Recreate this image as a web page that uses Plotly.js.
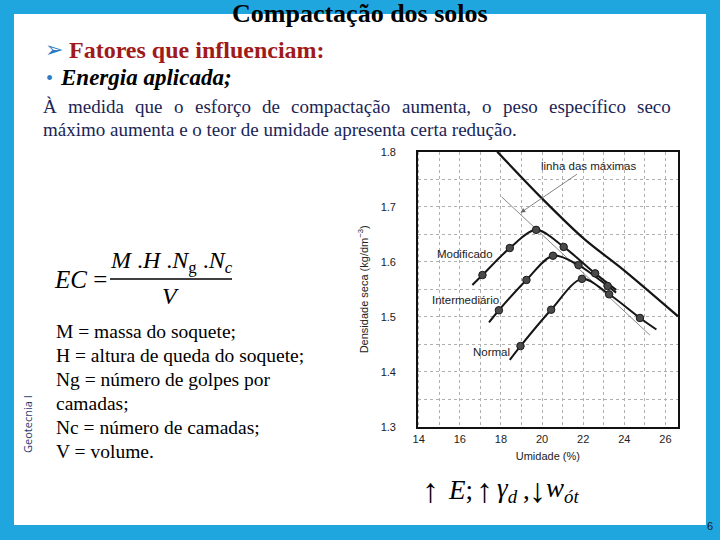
<!DOCTYPE html>
<html>
<head>
<meta charset="utf-8">
<script src="https://cdn.plot.ly/plotly-3.0.1.min.js"></script>
<style>html,body{margin:0;padding:0;background:#1fa6df;}#chart{width:720px;height:540px;}</style>
</head>
<body>
<div id="chart"></div>
<script>
// ---- data ----
const xTicks = [14, 16, 18, 20, 22, 24, 26];
const yTicks = [1.3, 1.4, 1.5, 1.6, 1.7, 1.8];

const maximasX = [17.82, 20.0, 22.0, 24.0, 26.61];
const maximasY = [1.800, 1.715, 1.643, 1.584, 1.501];

const guiaX = [18.03, 25.24];
const guiaY = [1.718, 1.467];

const modificadoX = [17.10, 18.43, 19.71, 21.05, 22.58];
const modificadoY = [1.576, 1.625, 1.658, 1.627, 1.579];
const modificadoCurvaX = [16.61, 17.10, 18.43, 19.71, 21.05, 22.58, 23.60];
const modificadoCurvaY = [1.558, 1.576, 1.625, 1.658, 1.627, 1.579, 1.549];

const intermediarioX = [17.90, 19.24, 20.53, 21.77, 23.19];
const intermediarioY = [1.512, 1.567, 1.611, 1.594, 1.556];
const intermediarioCurvaX = [17.42, 17.90, 19.24, 20.53, 21.77, 23.19, 23.60];
const intermediarioCurvaY = [1.490, 1.512, 1.567, 1.611, 1.594, 1.556, 1.544];

const normalX = [18.95, 20.44, 21.94, 23.26, 24.76];
const normalY = [1.447, 1.513, 1.569, 1.541, 1.498];
const normalCurvaX = [18.43, 18.95, 20.44, 21.94, 23.26, 24.76, 25.56];
const normalCurvaY = [1.422, 1.447, 1.513, 1.569, 1.541, 1.498, 1.477];

const curveLabels = ["Modificado", "Intermediário", "Normal"];
const curveLabelX = [16.24, 16.29, 17.55];
const curveLabelY = [1.614, 1.530, 1.437];

const tituloSlide = "Compactação dos solos";
const fatores = "Fatores que influenciam:";
const energia = "Energia aplicada;";
const paragrafo1 = "À medida que o esforço de compactação aumenta, o peso específico seco";
const paragrafo2 = "máximo aumenta e o teor de umidade apresenta certa redução.";
const legendaLista = ["M = massa do soquete;", "H = altura de queda do soquete;", "Ng = número de golpes por", "camadas;", "Nc = número de camadas;", "V = volume."];
// bottom relation pieces: text, left x position (px) and size
const relacaoPartes = ["↑", "<i>E</i>;", "↑", "<i>γ</i><sub><i>d</i></sub>", ",", "↓", "<i>w</i><sub><i>ót</i></sub>"];
const relacaoPosX = [421, 447, 475, 496, 522, 528, 545];
const relacaoTam = [34, 27, 34, 27, 27, 34, 27];

// ---- helpers ----
const W = 720, H = 540;
const px = v => v / W;
const py = v => 1 - v / H;
const SERIF = '"Liberation Serif", "Times New Roman", serif';
const SANS = '"Liberation Sans", Arial, sans-serif';

const markerStyle = {size: 7.5, color: '#4a4a4a', line: {color: '#1a1a1a', width: 1}};
function curve(x, y, w) {
  return {x, y, type: 'scatter', mode: 'lines', line: {color: '#151515', width: w || 2, shape: 'spline', smoothing: 0.9}, hoverinfo: 'skip', showlegend: false};
}
function pts(x, y) {
  return {x, y, type: 'scatter', mode: 'markers', marker: markerStyle, hoverinfo: 'skip', showlegend: false};
}

const traces = [
  curve(maximasX, maximasY, 2.2),
  {x: guiaX, y: guiaY, type: 'scatter', mode: 'lines', line: {color: '#8a8a8a', width: 1}, showlegend: false, hoverinfo: 'skip'},
  curve(modificadoCurvaX, modificadoCurvaY),
  curve(intermediarioCurvaX, intermediarioCurvaY),
  curve(normalCurvaX, normalCurvaY),
  pts(modificadoX, modificadoY),
  pts(intermediarioX, intermediarioY),
  pts(normalX, normalY)
];

const annotations = [];
function addText(text, x, y, opts) {
  annotations.push(Object.assign({
    text, x: px(x), y: py(y), xref: 'paper', yref: 'paper', showarrow: false,
    xanchor: 'left', yanchor: 'middle', font: {family: SERIF, size: 19, color: '#000'}
  }, opts || {}));
}

// chart labels
curveLabels.forEach((t, i) => annotations.push({
  text: t, x: curveLabelX[i], y: curveLabelY[i], xref: 'x', yref: 'y', showarrow: false,
  font: {family: SANS, size: 11.5, color: '#222'}
}));
annotations.push({text: 'linha das máximas', x: 22.24, y: 1.774, xref: 'x', yref: 'y', showarrow: false,
  font: {family: SANS, size: 11.5, color: '#222'}});
annotations.push({text: '', x: 18.95, y: 1.689, xref: 'x', yref: 'y', ax: 21.77, ay: 1.761, axref: 'x', ayref: 'y',
  showarrow: true, arrowhead: 2, arrowsize: 1.2, arrowwidth: 0.8, arrowcolor: '#666'});

// slide texts
addText('<b>' + tituloSlide + '</b>', 360, 14, {xanchor: 'center', font: {family: SERIF, size: 26, color: '#000'}});
addText('➢', 43, 50, {font: {family: '"DejaVu Sans", sans-serif', size: 22, color: '#2a7cc4'}});
addText('<b>' + fatores + '</b>', 67, 50, {font: {family: SERIF, size: 24, color: '#a01a1a'}});
addText('•', 44, 78, {font: {family: SERIF, size: 20, color: '#2a7cc4'}});
addText('<b><i>' + energia + '</i></b>', 58, 78, {font: {family: SERIF, size: 23, color: '#000'}});

// justified first paragraph line
(function () {
  const c = document.createElement('canvas').getContext('2d');
  c.font = '19px "Liberation Serif"';
  const words = paragrafo1.split(' ');
  const widths = words.map(w => c.measureText(w).width);
  const total = widths.reduce((a, b) => a + b, 0);
  const left = 43, right = 671;
  const gap = (right - left - total) / (words.length - 1);
  let x = left;
  words.forEach((w, i) => {
    addText(w, x - 1, 106, {font: {family: SERIF, size: 19, color: '#1b2556'}, borderpad: 0});
    x += widths[i] + gap;
  });
})();
addText(paragrafo2, 42, 130, {font: {family: SERIF, size: 19, color: '#1b2556'}, borderpad: 0});

// formula
addText('<i>EC</i> =', 52, 279, {font: {family: SERIF, size: 25, color: '#000'}});
addText('<i>M</i> .<i>H</i> .<i>N</i><sub>g</sub> .<i>N</i><sub><i>c</i></sub>', 171, 262, {xanchor: 'center', font: {family: SERIF, size: 24, color: '#000'}});
addText('<i>V</i>', 170, 296, {xanchor: 'center', font: {family: SERIF, size: 24, color: '#000'}});

legendaLista.forEach((t, i) => addText(t, 54, 331.5 + i * 24, {font: {family: SERIF, size: 19.5, color: '#000'}}));

addText('Geotecnia I', 27, 424, {xanchor: 'center', textangle: -90, font: {family: '"Open Sans", sans-serif', size: 11, color: '#1f3a6e'}});
addText('6', 710, 526, {xanchor: 'center', font: {family: SANS, size: 11, color: '#1a1a1a'}});

relacaoPartes.forEach((t, i) => addText(t, relacaoPosX[i], 490, {font: {family: SERIF, size: relacaoTam[i], color: '#000'}, borderpad: 0}));

const gridStyle = {showgrid: true, gridcolor: '#b0b0b0', griddash: 'dot', gridwidth: 1};

const layout = {
  width: W, height: H,
  margin: {l: 0, r: 0, t: 0, b: 0},
  paper_bgcolor: '#1fa6df',
  plot_bgcolor: '#ffffff',
  showlegend: false,
  xaxis: Object.assign({
    domain: [417.67 / W, 678 / W], range: [13.95, 26.61],
    tickvals: xTicks, ticktext: xTicks.map(String), ticks: '', ticklabelstandoff: 1,
    showline: true, mirror: true, linecolor: '#111', linewidth: 1.5, zeroline: false,
    tickfont: {family: SANS, size: 11, color: '#222'},
    minor: {dtick: 1, tick0: 14, showgrid: true, gridcolor: '#b0b0b0', griddash: 'dot', gridwidth: 1},
    title: {text: 'Umidade (%)', font: {family: SANS, size: 11, color: '#222'}, standoff: 8}
  }, gridStyle),
  yaxis: Object.assign({
    domain: [1 - 427 / H, 1 - 151.67 / H], range: [1.3, 1.8],
    tickvals: yTicks, ticktext: yTicks.map(v => v.toFixed(1)), ticks: '', ticklabelstandoff: 18,
    showline: true, mirror: true, linecolor: '#111', linewidth: 1.5, zeroline: false,
    tickfont: {family: SANS, size: 11, color: '#222'},
    minor: {dtick: 0.05, tick0: 1.3, showgrid: true, gridcolor: '#b0b0b0', griddash: 'dot', gridwidth: 1},
    title: {text: 'Densidade seca (kg/dm<sup>−3</sup>)', font: {family: SANS, size: 11, color: '#222'}, standoff: 10}
  }, gridStyle),
  shapes: [
    {type: 'rect', xref: 'paper', yref: 'paper', x0: px(14), x1: px(706), y0: py(525), y1: py(14), fillcolor: '#ffffff', line: {width: 0}, layer: 'below'},
    {type: 'line', xref: 'paper', yref: 'paper', x0: px(110), x1: px(232), y0: py(279), y1: py(279), line: {color: '#000', width: 1.3}}
  ],
  annotations
};

Plotly.newPlot('chart', traces, layout, {staticPlot: true, displayModeBar: false});
</script>
</body>
</html>
